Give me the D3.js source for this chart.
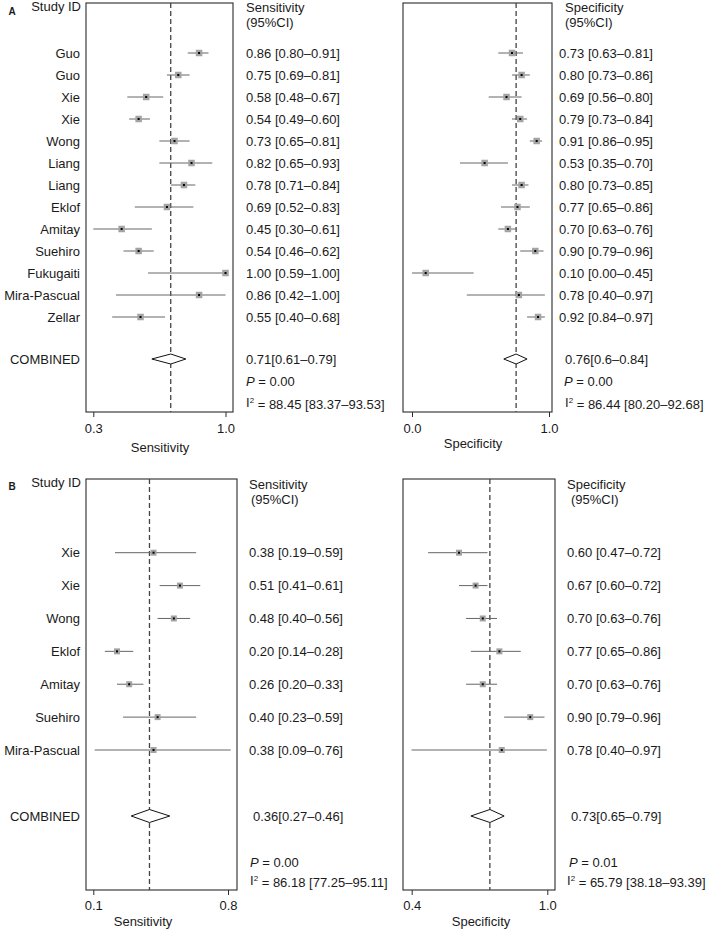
<!DOCTYPE html>
<html>
<head>
<meta charset="utf-8">
<script src="https://cdn.jsdelivr.net/npm/d3@7"></script>
<style>
  html, body { margin: 0; padding: 0; background: #fff; }
  svg { display: block; }
  text { font-family: "Liberation Sans", Arial, Helvetica, sans-serif; fill: #1a1a1a; }
</style>
</head>
<body>
<svg id="chart" width="709" height="931"></svg>
<script>
// ---------------- DATA ----------------
const studiesA = ["Guo","Guo","Xie","Xie","Wong","Liang","Liang","Eklof","Amitay","Suehiro","Fukugaiti","Mira-Pascual","Zellar"];
const sensA    = [0.86,0.75,0.58,0.54,0.73,0.82,0.78,0.69,0.45,0.54,1.00,0.86,0.55];
const sensALo  = [0.80,0.69,0.48,0.49,0.65,0.65,0.71,0.52,0.30,0.46,0.59,0.42,0.40];
const sensAHi  = [0.91,0.81,0.67,0.60,0.81,0.93,0.84,0.83,0.61,0.62,1.00,1.00,0.68];
const specA    = [0.73,0.80,0.69,0.79,0.91,0.53,0.80,0.77,0.70,0.90,0.10,0.78,0.92];
const specALo  = [0.63,0.73,0.56,0.73,0.86,0.35,0.73,0.65,0.63,0.79,0.00,0.40,0.84];
const specAHi  = [0.81,0.86,0.80,0.84,0.95,0.70,0.85,0.86,0.76,0.96,0.45,0.97,0.97];

const studiesB = ["Xie","Xie","Wong","Eklof","Amitay","Suehiro","Mira-Pascual"];
const sensB    = [0.38,0.51,0.48,0.20,0.26,0.40,0.38];
const sensBLo  = [0.19,0.41,0.40,0.14,0.20,0.23,0.09];
const sensBHi  = [0.59,0.61,0.56,0.28,0.33,0.59,0.76];
const specB    = [0.60,0.67,0.70,0.77,0.70,0.90,0.78];
const specBLo  = [0.47,0.60,0.63,0.65,0.63,0.79,0.40];
const specBHi  = [0.72,0.72,0.76,0.86,0.76,0.96,0.97];

// pooled estimates [estimate, lower, upper] as drawn (diamonds / reference line)
const pooledSensA = [0.71,0.61,0.79];
const pooledSpecA = [0.76,0.67,0.84];
const pooledSensB = [0.36,0.27,0.46];
const pooledSpecB = [0.73,0.65,0.79];
const pooledText  = ["0.71[0.61\u20130.79]","0.76[0.6\u20130.84]","0.36[0.27\u20130.46]","0.73[0.65\u20130.79]"];
const pValues     = ["0.00","0.00","0.00","0.01"];
const iSquared    = ["88.45 [83.37\u201393.53]","86.44 [80.20\u201392.68]","86.18 [77.25\u201395.11]","65.79 [38.18\u201393.39]"];

// axis tick labels
const ticksSensA = [0.3, 1.0];
const ticksSpecA = [0.0, 1.0];
const ticksSensB = [0.1, 0.8];
const ticksSpecB = [0.4, 1.0];

// ---------------- LAYOUT ----------------
const svg = d3.select("#chart");
const fmt = d3.format(".2f");
const FS = 13;

const panels = [
  { est: sensA, lo: sensALo, hi: sensAHi, pooled: pooledSensA, pIdx: 0, n: studiesA.length,
    box: [86, 233, 3, 412], dom: [0.3, 1.0], rng: [93.3, 225.5], tickRng: [93.3, 225.5], ticks: ticksSensA,
    rows: [53, 317], comb: 359, pY: 381, iY: 402, sq: 6.5, dh: 5,
    txtX: 246, hdrX: 246, hdr2X: 246, combX: 246, pX: 246, iX: 246, hdrY: [7, 22],
    header: "Sensitivity", title: "Sensitivity", titleX: 160, titleY: 447, tickY: 428 },
  { est: specA, lo: specALo, hi: specAHi, pooled: pooledSpecA, pIdx: 1, n: studiesA.length,
    box: [403, 552, 3, 412], dom: [0.0, 1.0], rng: [412, 549], tickRng: [412, 549], ticks: ticksSpecA,
    rows: [53, 317], comb: 359, pY: 381, iY: 402, sq: 6.5, dh: 5,
    txtX: 559, hdrX: 565, hdr2X: 565, combX: 565, pX: 564, iX: 565, hdrY: [7, 22],
    header: "Specificity", title: "Specificity", titleX: 473, titleY: 443, tickY: 428 },
  { est: sensB, lo: sensBLo, hi: sensBHi, pooled: pooledSensB, pIdx: 2, n: studiesB.length,
    box: [86, 237, 479, 890], dom: [0.1, 0.8], rng: [96.7, 238.8], tickRng: [93.3, 228], ticks: ticksSensB,
    rows: [552.7, 750], comb: 816, pY: 862.5, iY: 880, sq: 6, dh: 6.5,
    txtX: 249, hdrX: 249, hdr2X: 251, combX: 253, pX: 250, iX: 250, hdrY: [484.5, 499.5],
    header: "Sensitivity", title: "Sensitivity", titleX: 143, titleY: 921, tickY: 905 },
  { est: specB, lo: specBLo, hi: specBHi, pooled: pooledSpecB, pIdx: 3, n: studiesB.length,
    box: [403, 555, 479, 890], dom: [0.4, 1.0], rng: [411.5, 554], tickRng: [411.7, 547.3], ticks: ticksSpecB,
    rows: [552.7, 750], comb: 816, pY: 862.5, iY: 880, sq: 6, dh: 6.5,
    txtX: 567, hdrX: 567, hdr2X: 571, combX: 571, pX: 569, iX: 567, hdrY: [484, 499.5],
    header: "Specificity", title: "Specificity", titleX: 481, titleY: 921, tickY: 905 }
];

function addText(x, y, str, opts = {}) {
  return svg.append("text")
    .attr("x", x).attr("y", y).attr("dy", "0.35em")
    .attr("text-anchor", opts.anchor || "start")
    .style("font-size", (opts.size || FS) + "px")
    .style("font-weight", opts.weight || "normal")
    .text(str);
}

// Study labels
function drawStudyLabels(names, rows, headerY, letter, letterY) {
  const y = d3.scalePoint().domain(d3.range(names.length)).range(rows);
  names.forEach((n, i) => addText(80, y(i), n, { anchor: "end" }));
  addText(81, headerY, "Study ID", { anchor: "end" });
  addText(12, letterY, letter, { anchor: "middle", size: 10, weight: "bold" });
}
drawStudyLabels(studiesA, [53, 317], 6.5, "A", 11);
drawStudyLabels(studiesB, [552.7, 750], 482, "B", 486);
addText(80, 359, "COMBINED", { anchor: "end" });
addText(80, 816, "COMBINED", { anchor: "end" });

panels.forEach(p => {
  const x = d3.scaleLinear().domain(p.dom).range(p.rng);
  const xt = d3.scaleLinear().domain(p.dom).range(p.tickRng);
  const y = d3.scalePoint().domain(d3.range(p.n)).range(p.rows);
  const [bx0, bx1, by0, by1] = p.box;
  const g = svg.append("g");

  // frame
  g.append("rect").attr("x", bx0).attr("y", by0)
    .attr("width", bx1 - bx0).attr("height", by1 - by0)
    .attr("fill", "none").attr("stroke", "#2a2a2a").attr("stroke-width", 1.1);

  // pooled reference line
  g.append("line")
    .attr("x1", x(p.pooled[0])).attr("x2", x(p.pooled[0]))
    .attr("y1", by0).attr("y2", by1)
    .attr("stroke", "#444").attr("stroke-width", 1.3)
    .attr("stroke-dasharray", "5,3");

  // CI lines
  g.selectAll(".ci").data(p.est).enter().append("line")
    .attr("x1", (d, i) => x(p.lo[i])).attr("x2", (d, i) => x(p.hi[i]))
    .attr("y1", (d, i) => y(i)).attr("y2", (d, i) => y(i))
    .attr("stroke", "#666").attr("stroke-width", 1);

  // squares
  g.selectAll(".sq").data(p.est).enter().append("rect")
    .attr("x", d => x(d) - p.sq / 2).attr("y", (d, i) => y(i) - p.sq / 2)
    .attr("width", p.sq).attr("height", p.sq)
    .attr("fill", "#a3a3a3");
  g.selectAll(".dot").data(p.est).enter().append("rect")
    .attr("x", d => x(d) - 1).attr("y", (d, i) => y(i) - 1)
    .attr("width", 2).attr("height", 2).attr("fill", "#000");

  // diamond
  const [pe, pl, ph] = p.pooled;
  g.append("path")
    .attr("d", `M${x(pl)},${p.comb} L${x(pe)},${p.comb - p.dh} L${x(ph)},${p.comb} L${x(pe)},${p.comb + p.dh} Z`)
    .attr("fill", "#fff").attr("stroke", "#111").attr("stroke-width", 1);

  // axis
  const ax = d3.axisBottom(xt).tickValues(p.ticks).tickFormat(d3.format(".1f"))
    .tickSize(5).tickSizeOuter(0).tickPadding(p.tickY - by1 - 9.5);
  const axg = svg.append("g").attr("transform", `translate(0,${by1})`).call(ax);
  axg.select(".domain").remove();
  axg.selectAll("line").attr("stroke", "#2a2a2a");
  axg.selectAll("text").style("font-size", FS + "px")
    .style("font-family", '"Liberation Sans", Arial, sans-serif').attr("fill", "#1a1a1a");
  addText(p.titleX, p.titleY, p.title, { anchor: "middle" });

  // right-hand texts
  addText(p.hdrX, p.hdrY[0], p.header);
  addText(p.hdr2X, p.hdrY[1], "(95%CI)");
  p.est.forEach((d, i) => addText(p.txtX, y(i), `${fmt(d)} [${fmt(p.lo[i])}\u2013${fmt(p.hi[i])}]`));
  addText(p.combX, p.comb, pooledText[p.pIdx]);
  const pt = addText(p.pX, p.pY, "");
  pt.append("tspan").style("font-style", "italic").text("P");
  pt.append("tspan").text(" =  " + pValues[p.pIdx]);
  const it = addText(p.iX, p.iY, "");
  it.append("tspan").text("I");
  it.append("tspan").attr("dy", "-0.45em").style("font-size", "8px").text("2");
  it.append("tspan").attr("dy", "0.45em").text(" = " + iSquared[p.pIdx]);
});
</script>
</body>
</html>
